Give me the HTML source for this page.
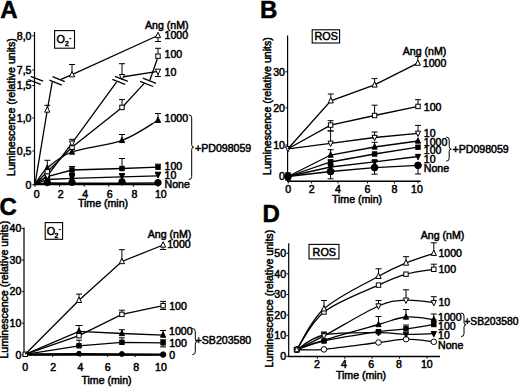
<!DOCTYPE html>
<html><head><meta charset="utf-8"><style>
html,body{margin:0;padding:0;background:#fff;width:520px;height:387px;overflow:hidden}
svg{display:block}
text{font-family:"Liberation Sans", sans-serif;fill:#000}
</style></head><body>
<svg width="520" height="387" viewBox="0 0 520 387" stroke="#000" fill="#000">
<g stroke="none"></g>
<g>
<text stroke-width="0.5" x="0.20" y="17.79" font-size="24" text-anchor="start" font-weight="bold">A</text>
<text stroke-width="0.5" x="260.00" y="18.09" font-size="24" text-anchor="start" font-weight="bold">B</text>
<text stroke-width="0.5" x="-0.50" y="215.39" font-size="24" text-anchor="start" font-weight="bold">C</text>
<text stroke-width="0.5" x="262.50" y="221.59" font-size="24" text-anchor="start" font-weight="bold">D</text>
<text stroke-width="0.5" transform="translate(14.60,176.00) rotate(-90)" font-size="10.6" x="0" y="0">Luminescence (relative units)</text>
<line x1="34.50" y1="32.00" x2="34.50" y2="185.10" stroke-width="1.2"/>
<line x1="33.90" y1="184.50" x2="158.50" y2="184.50" stroke-width="1.4"/>
<line x1="32.30" y1="35.80" x2="34.50" y2="35.80" stroke-width="1"/>
<text stroke-width="0.5" x="31.50" y="39.59" font-size="10.6" text-anchor="end" font-weight="normal">8,0</text>
<line x1="32.30" y1="70.00" x2="34.50" y2="70.00" stroke-width="1"/>
<text stroke-width="0.5" x="31.50" y="73.79" font-size="10.6" text-anchor="end" font-weight="normal">7,5</text>
<line x1="32.30" y1="85.50" x2="34.50" y2="85.50" stroke-width="1"/>
<text stroke-width="0.5" x="31.50" y="89.29" font-size="10.6" text-anchor="end" font-weight="normal">1,5</text>
<line x1="32.30" y1="118.00" x2="34.50" y2="118.00" stroke-width="1"/>
<text stroke-width="0.5" x="31.50" y="121.79" font-size="10.6" text-anchor="end" font-weight="normal">1,0</text>
<line x1="32.30" y1="151.00" x2="34.50" y2="151.00" stroke-width="1"/>
<text stroke-width="0.5" x="31.50" y="154.79" font-size="10.6" text-anchor="end" font-weight="normal">0,5</text>
<line x1="32.30" y1="184.80" x2="34.50" y2="184.80" stroke-width="1"/>
<text stroke-width="0.5" x="31.50" y="188.59" font-size="10.6" text-anchor="end" font-weight="normal">0</text>
<line x1="35.00" y1="184.50" x2="35.00" y2="186.70" stroke-width="1"/>
<text stroke-width="0.5" x="36.60" y="197.79" font-size="10.6" text-anchor="middle" font-weight="normal">0</text>
<line x1="59.60" y1="184.50" x2="59.60" y2="186.70" stroke-width="1"/>
<text stroke-width="0.5" x="60.60" y="197.79" font-size="10.6" text-anchor="middle" font-weight="normal">2</text>
<line x1="84.20" y1="184.50" x2="84.20" y2="186.70" stroke-width="1"/>
<text stroke-width="0.5" x="85.20" y="197.79" font-size="10.6" text-anchor="middle" font-weight="normal">4</text>
<line x1="108.80" y1="184.50" x2="108.80" y2="186.70" stroke-width="1"/>
<text stroke-width="0.5" x="109.80" y="197.79" font-size="10.6" text-anchor="middle" font-weight="normal">6</text>
<line x1="133.40" y1="184.50" x2="133.40" y2="186.70" stroke-width="1"/>
<text stroke-width="0.5" x="134.40" y="197.79" font-size="10.6" text-anchor="middle" font-weight="normal">8</text>
<line x1="158.00" y1="184.50" x2="158.00" y2="186.70" stroke-width="1"/>
<text stroke-width="0.5" x="160.80" y="197.79" font-size="10.6" text-anchor="middle" font-weight="normal">10</text>
<text stroke-width="0.5" x="103.00" y="207.39" font-size="10.6" text-anchor="middle" font-weight="normal">Time (min)</text>
<rect x="54.60" y="30.60" width="19.90" height="17.60" fill="none" stroke-width="1.1"/>
<text stroke-width="0.5" x="56.60" y="43.40" font-size="10.8">O</text>
<text stroke-width="0.5" x="64.90" y="46.20" font-size="6.8">2</text>
<line x1="69.30" y1="38.60" x2="71.30" y2="38.60" stroke-width="1.1"/>
<text stroke-width="0.5" x="166.80" y="28.79" font-size="10.6" text-anchor="middle" font-weight="normal">Ang (nM)</text>
<polyline points="35.00,184.30 47.30,183.00 72.00,183.20 122.00,183.20 158.00,183.00" fill="none" stroke-width="1.6"/>
<circle cx="47.30" cy="182.50" r="3.22" fill="#000" stroke-width="1"/>
<circle cx="72.00" cy="182.30" r="3.22" fill="#000" stroke-width="1"/>
<circle cx="122.00" cy="181.80" r="3.22" fill="#000" stroke-width="1"/>
<circle cx="158.00" cy="182.60" r="3.22" fill="#000" stroke-width="1"/>
<polyline points="35.00,184.30 47.30,179.50 72.00,178.30 122.00,176.80 158.00,175.90" fill="none" stroke-width="1.3"/>
<polygon points="47.30,182.74 44.70,177.34 49.90,177.34" fill="#000" stroke-width="1"/>
<polygon points="72.00,180.74 69.40,175.34 74.60,175.34" fill="#000" stroke-width="1"/>
<polygon points="122.00,179.24 119.40,173.84 124.60,173.84" fill="#000" stroke-width="1"/>
<polygon points="158.00,178.04 155.40,172.64 160.60,172.64" fill="#000" stroke-width="1"/>
<line x1="72.00" y1="177.50" x2="72.00" y2="174.50" stroke-width="1.0"/>
<line x1="69.00" y1="174.50" x2="75.00" y2="174.50" stroke-width="1.0"/>
<line x1="122.00" y1="176.00" x2="122.00" y2="173.60" stroke-width="1.0"/>
<line x1="119.00" y1="173.60" x2="125.00" y2="173.60" stroke-width="1.0"/>
<line x1="158.00" y1="174.80" x2="158.00" y2="172.20" stroke-width="1.0"/>
<line x1="155.00" y1="172.20" x2="161.00" y2="172.20" stroke-width="1.0"/>
<polyline points="35.00,184.30 47.30,176.50 72.00,170.00 122.00,168.50 158.00,167.20" fill="none" stroke-width="1.3"/>
<line x1="72.00" y1="170.00" x2="72.00" y2="166.50" stroke-width="1.0"/>
<line x1="69.00" y1="166.50" x2="75.00" y2="166.50" stroke-width="1.0"/>
<line x1="72.00" y1="170.00" x2="72.00" y2="173.50" stroke-width="1.0"/>
<line x1="69.00" y1="173.50" x2="75.00" y2="173.50" stroke-width="1.0"/>
<line x1="122.00" y1="168.50" x2="122.00" y2="158.50" stroke-width="1.0"/>
<line x1="119.00" y1="158.50" x2="125.00" y2="158.50" stroke-width="1.0"/>
<line x1="158.00" y1="167.20" x2="158.00" y2="164.20" stroke-width="1.0"/>
<line x1="155.00" y1="164.20" x2="161.00" y2="164.20" stroke-width="1.0"/>
<rect x="45.10" y="174.30" width="4.40" height="4.40" fill="#000" stroke-width="1"/>
<rect x="69.80" y="167.80" width="4.40" height="4.40" fill="#000" stroke-width="1"/>
<rect x="119.80" y="166.30" width="4.40" height="4.40" fill="#000" stroke-width="1"/>
<rect x="155.80" y="165.00" width="4.40" height="4.40" fill="#000" stroke-width="1"/>
<path d="M35.00,184.30 C37.05,181.58 41.13,173.38 47.30,168.00 C53.47,162.62 59.55,156.60 72.00,152.00 C84.45,147.40 107.67,145.68 122.00,140.40 C136.33,135.12 152.00,123.65 158.00,120.30" fill="none" stroke-width="1.3"/>
<line x1="47.30" y1="168.00" x2="47.30" y2="160.30" stroke-width="1.0"/>
<line x1="44.30" y1="160.30" x2="50.30" y2="160.30" stroke-width="1.0"/>
<line x1="72.00" y1="152.00" x2="72.00" y2="149.50" stroke-width="1.0"/>
<line x1="69.00" y1="149.50" x2="75.00" y2="149.50" stroke-width="1.0"/>
<line x1="122.00" y1="140.40" x2="122.00" y2="134.50" stroke-width="1.0"/>
<line x1="119.00" y1="134.50" x2="125.00" y2="134.50" stroke-width="1.0"/>
<line x1="158.00" y1="120.30" x2="158.00" y2="113.50" stroke-width="1.0"/>
<line x1="155.00" y1="113.50" x2="161.00" y2="113.50" stroke-width="1.0"/>
<polygon points="47.30,164.76 44.70,170.16 49.90,170.16" fill="#000" stroke-width="1"/>
<polygon points="72.00,148.76 69.40,154.16 74.60,154.16" fill="#000" stroke-width="1"/>
<polygon points="122.00,137.16 119.40,142.56 124.60,142.56" fill="#000" stroke-width="1"/>
<polygon points="158.00,117.06 155.40,122.46 160.60,122.46" fill="#000" stroke-width="1"/>
<polyline points="35.00,184.30 47.30,171.80 72.00,147.30 122.00,107.40 144.70,82.90" fill="none" stroke-width="1.3"/>
<polyline points="149.90,80.30 158.00,56.80" fill="none" stroke-width="1.3"/>
<line x1="122.00" y1="107.40" x2="122.00" y2="99.60" stroke-width="1.0"/>
<line x1="119.00" y1="99.60" x2="125.00" y2="99.60" stroke-width="1.0"/>
<line x1="158.00" y1="56.20" x2="158.00" y2="48.30" stroke-width="1.0"/>
<line x1="155.00" y1="48.30" x2="161.00" y2="48.30" stroke-width="1.0"/>
<line x1="47.30" y1="171.80" x2="47.30" y2="175.50" stroke-width="1.0"/>
<line x1="44.30" y1="175.50" x2="50.30" y2="175.50" stroke-width="1.0"/>
<polyline points="35.00,184.30 47.30,176.00 72.00,143.20 116.50,82.10" fill="none" stroke-width="1.3"/>
<polyline points="122.00,77.00 158.00,71.30" fill="none" stroke-width="1.3"/>
<line x1="72.00" y1="143.20" x2="72.00" y2="139.30" stroke-width="1.0"/>
<line x1="69.00" y1="139.30" x2="75.00" y2="139.30" stroke-width="1.0"/>
<line x1="122.00" y1="77.00" x2="122.00" y2="63.70" stroke-width="1.0"/>
<line x1="119.00" y1="63.70" x2="125.00" y2="63.70" stroke-width="1.0"/>
<line x1="158.00" y1="71.30" x2="158.00" y2="76.50" stroke-width="1.0"/>
<line x1="155.00" y1="76.50" x2="161.00" y2="76.50" stroke-width="1.0"/>
<polyline points="35.00,184.30 47.30,110.00 52.30,81.60" fill="none" stroke-width="1.3"/>
<polyline points="61.00,79.40 72.00,74.70 158.00,35.50" fill="none" stroke-width="1.3"/>
<line x1="47.30" y1="110.00" x2="47.30" y2="105.30" stroke-width="1.0"/>
<line x1="44.30" y1="105.30" x2="50.30" y2="105.30" stroke-width="1.0"/>
<line x1="72.00" y1="74.70" x2="72.00" y2="64.50" stroke-width="1.0"/>
<line x1="69.00" y1="64.50" x2="75.00" y2="64.50" stroke-width="1.0"/>
<line x1="158.00" y1="35.50" x2="158.00" y2="41.50" stroke-width="1.0"/>
<line x1="155.00" y1="41.50" x2="161.00" y2="41.50" stroke-width="1.0"/>
<line x1="30.60" y1="76.30" x2="43.10" y2="81.10" stroke-width="1.3"/>
<line x1="28.20" y1="79.50" x2="40.70" y2="84.30" stroke-width="1.3"/>
<polygon points="52.50,76.60 64.80,81.70 61.80,85.20 49.50,80.10" fill="#fff" stroke="none"/>
<line x1="52.50" y1="76.60" x2="64.80" y2="81.70" stroke-width="1.3"/>
<line x1="49.50" y1="80.10" x2="61.80" y2="85.20" stroke-width="1.3"/>
<polygon points="115.00,76.30 127.80,81.30 125.10,84.40 112.30,79.40" fill="#fff" stroke="none"/>
<line x1="115.00" y1="76.30" x2="127.80" y2="81.30" stroke-width="1.3"/>
<line x1="112.30" y1="79.40" x2="125.10" y2="84.40" stroke-width="1.3"/>
<polygon points="142.80,78.10 156.00,83.30 153.20,86.50 140.00,81.30" fill="#fff" stroke="none"/>
<line x1="142.80" y1="78.10" x2="156.00" y2="83.30" stroke-width="1.3"/>
<line x1="140.00" y1="81.30" x2="153.20" y2="86.50" stroke-width="1.3"/>
<rect x="45.10" y="169.60" width="4.40" height="4.40" fill="#fff" stroke-width="1"/>
<rect x="69.80" y="145.10" width="4.40" height="4.40" fill="#fff" stroke-width="1"/>
<rect x="119.80" y="105.20" width="4.40" height="4.40" fill="#fff" stroke-width="1"/>
<rect x="155.80" y="54.00" width="4.40" height="4.40" fill="#fff" stroke-width="1"/>
<polygon points="47.30,179.24 44.70,173.84 49.90,173.84" fill="#fff" stroke-width="1"/>
<polygon points="72.00,146.44 69.40,141.04 74.60,141.04" fill="#fff" stroke-width="1"/>
<polygon points="122.00,79.94 119.40,74.54 124.60,74.54" fill="#fff" stroke-width="1"/>
<polygon points="158.00,74.54 155.40,69.14 160.60,69.14" fill="#fff" stroke-width="1"/>
<polygon points="47.30,106.76 44.70,112.16 49.90,112.16" fill="#fff" stroke-width="1"/>
<polygon points="72.00,71.46 69.40,76.86 74.60,76.86" fill="#fff" stroke-width="1"/>
<polygon points="158.00,32.26 155.40,37.66 160.60,37.66" fill="#fff" stroke-width="1"/>
<text stroke-width="0.5" x="164.50" y="39.39" font-size="10.6" text-anchor="start" font-weight="normal">1000</text>
<text stroke-width="0.5" x="164.50" y="57.69" font-size="10.6" text-anchor="start" font-weight="normal">100</text>
<text stroke-width="0.5" x="164.50" y="76.19" font-size="10.6" text-anchor="start" font-weight="normal">10</text>
<text stroke-width="0.5" x="164.50" y="121.59" font-size="10.6" text-anchor="start" font-weight="normal">1000</text>
<text stroke-width="0.5" x="164.50" y="170.39" font-size="10.6" text-anchor="start" font-weight="normal">100</text>
<text stroke-width="0.5" x="164.50" y="179.39" font-size="10.6" text-anchor="start" font-weight="normal">10</text>
<text stroke-width="0.5" x="164.50" y="187.59" font-size="10.6" text-anchor="start" font-weight="normal">None</text>
<path d="M188.70,114.80 Q191.70,114.80 191.70,117.80 L191.70,144.65 Q191.70,147.15 193.70,147.15 Q191.70,147.15 191.70,149.65 L191.70,176.50 Q191.70,179.50 188.70,179.50" fill="none" stroke-width="1.0"/>
<text stroke-width="0.5" x="195.00" y="152.29" font-size="10.6" text-anchor="start" font-weight="normal">+PD098059</text>
<text stroke-width="0.5" transform="translate(271.00,175.00) rotate(-90)" font-size="10.6" x="0" y="0">Luminescence (relative units)</text>
<line x1="287.60" y1="35.60" x2="287.60" y2="181.80" stroke-width="1.2"/>
<line x1="287.00" y1="181.20" x2="420.80" y2="181.20" stroke-width="1.4"/>
<line x1="285.40" y1="71.80" x2="287.60" y2="71.80" stroke-width="1"/>
<text stroke-width="0.5" x="285.00" y="75.59" font-size="10.6" text-anchor="end" font-weight="normal">30</text>
<line x1="285.40" y1="107.80" x2="287.60" y2="107.80" stroke-width="1"/>
<text stroke-width="0.5" x="285.00" y="111.59" font-size="10.6" text-anchor="end" font-weight="normal">20</text>
<line x1="285.40" y1="145.00" x2="287.60" y2="145.00" stroke-width="1"/>
<text stroke-width="0.5" x="285.00" y="148.79" font-size="10.6" text-anchor="end" font-weight="normal">10</text>
<line x1="285.40" y1="176.30" x2="287.60" y2="176.30" stroke-width="1"/>
<text stroke-width="0.5" x="285.00" y="180.09" font-size="10.6" text-anchor="end" font-weight="normal">0</text>
<line x1="288.30" y1="181.20" x2="288.30" y2="183.40" stroke-width="1"/>
<text stroke-width="0.5" x="288.30" y="192.99" font-size="10.6" text-anchor="middle" font-weight="normal">0</text>
<line x1="311.60" y1="181.20" x2="311.60" y2="183.40" stroke-width="1"/>
<text stroke-width="0.5" x="311.60" y="192.99" font-size="10.6" text-anchor="middle" font-weight="normal">2</text>
<line x1="338.00" y1="181.20" x2="338.00" y2="183.40" stroke-width="1"/>
<text stroke-width="0.5" x="338.00" y="192.99" font-size="10.6" text-anchor="middle" font-weight="normal">4</text>
<line x1="367.50" y1="181.20" x2="367.50" y2="183.40" stroke-width="1"/>
<text stroke-width="0.5" x="367.50" y="192.99" font-size="10.6" text-anchor="middle" font-weight="normal">6</text>
<line x1="394.50" y1="181.20" x2="394.50" y2="183.40" stroke-width="1"/>
<text stroke-width="0.5" x="394.50" y="192.99" font-size="10.6" text-anchor="middle" font-weight="normal">8</text>
<line x1="418.00" y1="181.20" x2="418.00" y2="183.40" stroke-width="1"/>
<text stroke-width="0.5" x="416.90" y="192.99" font-size="10.6" text-anchor="middle" font-weight="normal">10</text>
<text stroke-width="0.5" x="357.00" y="203.39" font-size="10.6" text-anchor="middle" font-weight="normal">Time (min)</text>
<rect x="312.20" y="29.80" width="27.40" height="13.20" fill="none" stroke-width="1.1"/>
<text stroke-width="0.5" x="326.20" y="40.27" font-size="10.8" text-anchor="middle" font-weight="normal">ROS</text>
<text stroke-width="0.5" x="424.50" y="54.79" font-size="10.6" text-anchor="middle" font-weight="normal">Ang (nM)</text>
<polyline points="288.00,176.50 330.60,171.50 374.60,167.60 418.00,165.30" fill="none" stroke-width="1.3"/>
<line x1="330.60" y1="171.50" x2="330.60" y2="164.50" stroke-width="1.0"/>
<line x1="327.60" y1="164.50" x2="333.60" y2="164.50" stroke-width="1.0"/>
<line x1="330.60" y1="171.50" x2="330.60" y2="178.80" stroke-width="1.0"/>
<line x1="327.60" y1="178.80" x2="333.60" y2="178.80" stroke-width="1.0"/>
<line x1="374.60" y1="167.60" x2="374.60" y2="160.50" stroke-width="1.0"/>
<line x1="371.60" y1="160.50" x2="377.60" y2="160.50" stroke-width="1.0"/>
<line x1="374.60" y1="167.60" x2="374.60" y2="174.20" stroke-width="1.0"/>
<line x1="371.60" y1="174.20" x2="377.60" y2="174.20" stroke-width="1.0"/>
<line x1="418.00" y1="165.30" x2="418.00" y2="174.00" stroke-width="1.0"/>
<line x1="415.00" y1="174.00" x2="421.00" y2="174.00" stroke-width="1.0"/>
<circle cx="288.00" cy="176.50" r="3.36" fill="#000" stroke-width="1"/>
<circle cx="330.60" cy="171.50" r="3.36" fill="#000" stroke-width="1"/>
<circle cx="374.60" cy="167.60" r="3.36" fill="#000" stroke-width="1"/>
<circle cx="418.00" cy="165.30" r="3.36" fill="#000" stroke-width="1"/>
<polyline points="288.00,176.50 330.60,167.00 374.60,161.90 418.00,156.50" fill="none" stroke-width="1.3"/>
<line x1="330.60" y1="167.00" x2="330.60" y2="160.00" stroke-width="1.0"/>
<line x1="327.60" y1="160.00" x2="333.60" y2="160.00" stroke-width="1.0"/>
<polygon points="330.60,170.24 328.00,164.84 333.20,164.84" fill="#000" stroke-width="1"/>
<polygon points="374.60,165.14 372.00,159.74 377.20,159.74" fill="#000" stroke-width="1"/>
<polygon points="418.00,159.74 415.40,154.34 420.60,154.34" fill="#000" stroke-width="1"/>
<polyline points="288.00,176.50 330.60,162.00 374.60,154.00 418.00,147.20" fill="none" stroke-width="1.3"/>
<rect x="328.40" y="159.80" width="4.40" height="4.40" fill="#000" stroke-width="1"/>
<rect x="372.40" y="151.80" width="4.40" height="4.40" fill="#000" stroke-width="1"/>
<rect x="415.80" y="145.00" width="4.40" height="4.40" fill="#000" stroke-width="1"/>
<polyline points="288.00,176.50 330.60,155.00 374.60,147.00 418.00,141.00" fill="none" stroke-width="1.3"/>
<line x1="330.60" y1="155.00" x2="330.60" y2="149.70" stroke-width="1.0"/>
<line x1="327.60" y1="149.70" x2="333.60" y2="149.70" stroke-width="1.0"/>
<line x1="374.60" y1="147.00" x2="374.60" y2="142.30" stroke-width="1.0"/>
<line x1="371.60" y1="142.30" x2="377.60" y2="142.30" stroke-width="1.0"/>
<polygon points="330.60,151.76 328.00,157.16 333.20,157.16" fill="#000" stroke-width="1"/>
<polygon points="374.60,143.76 372.00,149.16 377.20,149.16" fill="#000" stroke-width="1"/>
<polygon points="418.00,137.76 415.40,143.16 420.60,143.16" fill="#000" stroke-width="1"/>
<polyline points="288.00,148.80 330.60,143.30 374.60,137.50 418.00,133.30" fill="none" stroke-width="1.3"/>
<line x1="330.60" y1="143.30" x2="330.60" y2="130.90" stroke-width="1.0"/>
<line x1="327.60" y1="130.90" x2="333.60" y2="130.90" stroke-width="1.0"/>
<line x1="374.60" y1="137.50" x2="374.60" y2="132.00" stroke-width="1.0"/>
<line x1="371.60" y1="132.00" x2="377.60" y2="132.00" stroke-width="1.0"/>
<line x1="418.00" y1="133.30" x2="418.00" y2="125.40" stroke-width="1.0"/>
<line x1="415.00" y1="125.40" x2="421.00" y2="125.40" stroke-width="1.0"/>
<polygon points="288.00,152.04 285.40,146.64 290.60,146.64" fill="#fff" stroke-width="1"/>
<polygon points="330.60,146.54 328.00,141.14 333.20,141.14" fill="#fff" stroke-width="1"/>
<polygon points="374.60,140.74 372.00,135.34 377.20,135.34" fill="#fff" stroke-width="1"/>
<polygon points="418.00,136.54 415.40,131.14 420.60,131.14" fill="#fff" stroke-width="1"/>
<polyline points="288.00,148.80 330.60,125.10 374.60,115.50 418.00,106.40" fill="none" stroke-width="1.3"/>
<line x1="330.60" y1="125.10" x2="330.60" y2="120.70" stroke-width="1.0"/>
<line x1="327.60" y1="120.70" x2="333.60" y2="120.70" stroke-width="1.0"/>
<line x1="330.60" y1="125.10" x2="330.60" y2="130.90" stroke-width="1.0"/>
<line x1="327.60" y1="130.90" x2="333.60" y2="130.90" stroke-width="1.0"/>
<line x1="374.60" y1="115.50" x2="374.60" y2="105.20" stroke-width="1.0"/>
<line x1="371.60" y1="105.20" x2="377.60" y2="105.20" stroke-width="1.0"/>
<line x1="418.00" y1="106.40" x2="418.00" y2="99.70" stroke-width="1.0"/>
<line x1="415.00" y1="99.70" x2="421.00" y2="99.70" stroke-width="1.0"/>
<rect x="328.40" y="122.90" width="4.40" height="4.40" fill="#fff" stroke-width="1"/>
<rect x="372.40" y="113.30" width="4.40" height="4.40" fill="#fff" stroke-width="1"/>
<rect x="415.80" y="104.20" width="4.40" height="4.40" fill="#fff" stroke-width="1"/>
<polyline points="288.00,148.80 330.80,100.80 374.60,84.90 417.80,63.10" fill="none" stroke-width="1.3"/>
<line x1="330.80" y1="100.80" x2="330.80" y2="94.00" stroke-width="1.0"/>
<line x1="327.80" y1="94.00" x2="333.80" y2="94.00" stroke-width="1.0"/>
<line x1="374.60" y1="84.90" x2="374.60" y2="78.60" stroke-width="1.0"/>
<line x1="371.60" y1="78.60" x2="377.60" y2="78.60" stroke-width="1.0"/>
<line x1="417.80" y1="63.10" x2="417.80" y2="56.30" stroke-width="1.0"/>
<line x1="414.80" y1="56.30" x2="420.80" y2="56.30" stroke-width="1.0"/>
<polygon points="330.80,97.56 328.20,102.96 333.40,102.96" fill="#fff" stroke-width="1"/>
<polygon points="374.60,81.66 372.00,87.06 377.20,87.06" fill="#fff" stroke-width="1"/>
<polygon points="417.80,59.86 415.20,65.26 420.40,65.26" fill="#fff" stroke-width="1"/>
<rect x="285.80" y="175.80" width="4.40" height="4.40" fill="#000" stroke-width="1"/>
<rect x="285.80" y="172.80" width="4.40" height="4.40" fill="#000" stroke-width="1"/>
<text stroke-width="0.5" x="422.80" y="67.29" font-size="10.6" text-anchor="start" font-weight="normal">1000</text>
<text stroke-width="0.5" x="423.80" y="110.69" font-size="10.6" text-anchor="start" font-weight="normal">100</text>
<text stroke-width="0.5" x="423.80" y="136.59" font-size="10.6" text-anchor="start" font-weight="normal">10</text>
<text stroke-width="0.5" x="423.80" y="146.39" font-size="10.6" text-anchor="start" font-weight="normal">1000</text>
<text stroke-width="0.5" x="423.80" y="154.29" font-size="10.6" text-anchor="start" font-weight="normal">100</text>
<text stroke-width="0.5" x="423.80" y="162.59" font-size="10.6" text-anchor="start" font-weight="normal">10</text>
<text stroke-width="0.5" x="423.80" y="172.29" font-size="10.6" text-anchor="start" font-weight="normal">None</text>
<path d="M446.20,137.00 Q449.20,137.00 449.20,140.00 L449.20,146.60 Q449.20,149.10 451.20,149.10 Q449.20,149.10 449.20,151.60 L449.20,158.20 Q449.20,161.20 446.20,161.20" fill="none" stroke-width="1.0"/>
<text stroke-width="0.5" x="452.50" y="152.99" font-size="10.6" text-anchor="start" font-weight="normal">+PD098059</text>
<text stroke-width="0.5" transform="translate(8.30,358.60) rotate(-90)" font-size="10.6" x="0" y="0">Luminescence (relative units)</text>
<line x1="24.00" y1="227.50" x2="24.00" y2="355.40" stroke-width="1.2"/>
<line x1="23.40" y1="354.80" x2="164.00" y2="354.80" stroke-width="1.4"/>
<line x1="21.80" y1="228.40" x2="24.00" y2="228.40" stroke-width="1"/>
<text stroke-width="0.5" x="21.40" y="232.19" font-size="10.6" text-anchor="end" font-weight="normal">40</text>
<line x1="21.80" y1="260.00" x2="24.00" y2="260.00" stroke-width="1"/>
<text stroke-width="0.5" x="21.40" y="263.79" font-size="10.6" text-anchor="end" font-weight="normal">30</text>
<line x1="21.80" y1="291.60" x2="24.00" y2="291.60" stroke-width="1"/>
<text stroke-width="0.5" x="21.40" y="295.39" font-size="10.6" text-anchor="end" font-weight="normal">20</text>
<line x1="21.80" y1="323.20" x2="24.00" y2="323.20" stroke-width="1"/>
<text stroke-width="0.5" x="21.40" y="326.99" font-size="10.6" text-anchor="end" font-weight="normal">10</text>
<line x1="21.80" y1="354.80" x2="24.00" y2="354.80" stroke-width="1"/>
<text stroke-width="0.5" x="21.40" y="358.59" font-size="10.6" text-anchor="end" font-weight="normal">0</text>
<line x1="25.20" y1="354.80" x2="25.20" y2="357.00" stroke-width="1"/>
<text stroke-width="0.5" x="25.20" y="371.29" font-size="10.6" text-anchor="middle" font-weight="normal">0</text>
<line x1="52.70" y1="354.80" x2="52.70" y2="357.00" stroke-width="1"/>
<text stroke-width="0.5" x="53.30" y="371.29" font-size="10.6" text-anchor="middle" font-weight="normal">2</text>
<line x1="80.20" y1="354.80" x2="80.20" y2="357.00" stroke-width="1"/>
<text stroke-width="0.5" x="80.40" y="371.29" font-size="10.6" text-anchor="middle" font-weight="normal">4</text>
<line x1="107.70" y1="354.80" x2="107.70" y2="357.00" stroke-width="1"/>
<text stroke-width="0.5" x="107.70" y="371.29" font-size="10.6" text-anchor="middle" font-weight="normal">6</text>
<line x1="135.20" y1="354.80" x2="135.20" y2="357.00" stroke-width="1"/>
<text stroke-width="0.5" x="136.30" y="371.29" font-size="10.6" text-anchor="middle" font-weight="normal">8</text>
<line x1="162.70" y1="354.80" x2="162.70" y2="357.00" stroke-width="1"/>
<text stroke-width="0.5" x="161.00" y="371.29" font-size="10.6" text-anchor="middle" font-weight="normal">10</text>
<text stroke-width="0.5" x="106.50" y="384.29" font-size="10.6" text-anchor="middle" font-weight="normal">Time (min)</text>
<rect x="45.20" y="222.60" width="17.40" height="16.70" fill="none" stroke-width="1.1"/>
<text stroke-width="0.5" x="46.80" y="235.30" font-size="10.8">O</text>
<text stroke-width="0.5" x="54.40" y="237.60" font-size="6.8">2</text>
<line x1="58.70" y1="229.50" x2="60.70" y2="229.50" stroke-width="1.1"/>
<text stroke-width="0.5" x="169.50" y="237.59" font-size="10.6" text-anchor="middle" font-weight="normal">Ang (nM)</text>
<polyline points="25.20,354.50 79.00,354.30 121.90,354.50 163.10,354.60" fill="none" stroke-width="2.4"/>
<circle cx="79.00" cy="353.60" r="2.38" fill="#000" stroke-width="1"/>
<circle cx="121.90" cy="354.00" r="2.46" fill="#000" stroke-width="1"/>
<circle cx="163.10" cy="354.60" r="2.74" fill="#000" stroke-width="1"/>
<polyline points="25.20,354.30 79.00,345.80 121.90,342.30 163.10,342.80" fill="none" stroke-width="1.3"/>
<line x1="79.00" y1="345.80" x2="79.00" y2="340.20" stroke-width="1.0"/>
<line x1="76.00" y1="340.20" x2="82.00" y2="340.20" stroke-width="1.0"/>
<line x1="121.90" y1="342.30" x2="121.90" y2="337.80" stroke-width="1.0"/>
<line x1="118.90" y1="337.80" x2="124.90" y2="337.80" stroke-width="1.0"/>
<line x1="163.10" y1="342.80" x2="163.10" y2="339.80" stroke-width="1.0"/>
<line x1="160.10" y1="339.80" x2="166.10" y2="339.80" stroke-width="1.0"/>
<line x1="163.10" y1="342.80" x2="163.10" y2="346.90" stroke-width="1.0"/>
<line x1="160.10" y1="346.90" x2="166.10" y2="346.90" stroke-width="1.0"/>
<rect x="76.80" y="343.60" width="4.40" height="4.40" fill="#000" stroke-width="1"/>
<rect x="119.70" y="340.10" width="4.40" height="4.40" fill="#000" stroke-width="1"/>
<rect x="160.90" y="340.60" width="4.40" height="4.40" fill="#000" stroke-width="1"/>
<polyline points="25.20,354.30 79.00,331.30 121.90,333.50 163.10,335.10" fill="none" stroke-width="1.3"/>
<line x1="79.00" y1="331.30" x2="79.00" y2="325.50" stroke-width="1.0"/>
<line x1="75.50" y1="325.50" x2="82.50" y2="325.50" stroke-width="1.0"/>
<line x1="121.90" y1="333.50" x2="121.90" y2="329.70" stroke-width="1.0"/>
<line x1="118.90" y1="329.70" x2="124.90" y2="329.70" stroke-width="1.0"/>
<line x1="163.10" y1="335.10" x2="163.10" y2="330.50" stroke-width="1.0"/>
<line x1="160.10" y1="330.50" x2="166.10" y2="330.50" stroke-width="1.0"/>
<polygon points="79.00,328.06 76.40,333.46 81.60,333.46" fill="#000" stroke-width="1"/>
<polygon points="121.90,330.26 119.30,335.66 124.50,335.66" fill="#000" stroke-width="1"/>
<polygon points="163.10,331.86 160.50,337.26 165.70,337.26" fill="#000" stroke-width="1"/>
<polyline points="25.20,354.30 79.00,335.70 121.90,314.40 163.10,305.70" fill="none" stroke-width="1.3"/>
<line x1="121.90" y1="314.40" x2="121.90" y2="310.20" stroke-width="1.0"/>
<line x1="118.90" y1="310.20" x2="124.90" y2="310.20" stroke-width="1.0"/>
<line x1="163.10" y1="305.70" x2="163.10" y2="301.40" stroke-width="1.0"/>
<line x1="160.10" y1="301.40" x2="166.10" y2="301.40" stroke-width="1.0"/>
<line x1="163.10" y1="305.70" x2="163.10" y2="309.50" stroke-width="1.0"/>
<line x1="160.10" y1="309.50" x2="166.10" y2="309.50" stroke-width="1.0"/>
<rect x="23.00" y="352.10" width="4.40" height="4.40" fill="#fff" stroke-width="1"/>
<rect x="76.80" y="333.50" width="4.40" height="4.40" fill="#fff" stroke-width="1"/>
<rect x="119.70" y="312.20" width="4.40" height="4.40" fill="#fff" stroke-width="1"/>
<rect x="160.90" y="303.50" width="4.40" height="4.40" fill="#fff" stroke-width="1"/>
<polyline points="25.20,354.30 79.00,300.30 121.90,261.50 163.10,245.00" fill="none" stroke-width="1.3"/>
<line x1="79.00" y1="300.30" x2="79.00" y2="294.10" stroke-width="1.0"/>
<line x1="76.00" y1="294.10" x2="82.00" y2="294.10" stroke-width="1.0"/>
<line x1="121.90" y1="261.50" x2="121.90" y2="249.70" stroke-width="1.0"/>
<line x1="118.90" y1="249.70" x2="124.90" y2="249.70" stroke-width="1.0"/>
<line x1="163.10" y1="245.00" x2="163.10" y2="249.50" stroke-width="1.0"/>
<line x1="160.10" y1="249.50" x2="166.10" y2="249.50" stroke-width="1.0"/>
<polygon points="79.00,297.06 76.40,302.46 81.60,302.46" fill="#fff" stroke-width="1"/>
<polygon points="121.90,258.26 119.30,263.66 124.50,263.66" fill="#fff" stroke-width="1"/>
<polygon points="163.10,241.76 160.50,247.16 165.70,247.16" fill="#fff" stroke-width="1"/>
<text stroke-width="0.5" x="167.20" y="248.19" font-size="10.6" text-anchor="start" font-weight="normal">1000</text>
<text stroke-width="0.5" x="169.20" y="309.79" font-size="10.6" text-anchor="start" font-weight="normal">100</text>
<text stroke-width="0.5" x="169.00" y="335.09" font-size="10.6" text-anchor="start" font-weight="normal">1000</text>
<text stroke-width="0.5" x="169.20" y="347.49" font-size="10.6" text-anchor="start" font-weight="normal">100</text>
<text stroke-width="0.5" x="169.20" y="358.59" font-size="10.6" text-anchor="start" font-weight="normal">0</text>
<path d="M192.30,328.50 Q195.30,328.50 195.30,331.50 L195.30,339.05 Q195.30,341.55 197.30,341.55 Q195.30,341.55 195.30,344.05 L195.30,351.60 Q195.30,354.60 192.30,354.60" fill="none" stroke-width="1.0"/>
<text stroke-width="0.5" x="195.60" y="344.19" font-size="10.6" text-anchor="start" font-weight="normal">+SB203580</text>
<text stroke-width="0.5" transform="translate(273.30,367.60) rotate(-90)" font-size="10.6" x="0" y="0">Luminescence (relative units)</text>
<line x1="288.70" y1="243.30" x2="288.70" y2="357.10" stroke-width="1.2"/>
<line x1="288.10" y1="356.50" x2="440.00" y2="356.50" stroke-width="1.4"/>
<line x1="286.50" y1="253.30" x2="288.70" y2="253.30" stroke-width="1"/>
<text stroke-width="0.5" x="286.10" y="257.09" font-size="10.6" text-anchor="end" font-weight="normal">50</text>
<line x1="286.50" y1="273.90" x2="288.70" y2="273.90" stroke-width="1"/>
<text stroke-width="0.5" x="286.10" y="277.69" font-size="10.6" text-anchor="end" font-weight="normal">40</text>
<line x1="286.50" y1="294.50" x2="288.70" y2="294.50" stroke-width="1"/>
<text stroke-width="0.5" x="286.10" y="298.29" font-size="10.6" text-anchor="end" font-weight="normal">30</text>
<line x1="286.50" y1="315.10" x2="288.70" y2="315.10" stroke-width="1"/>
<text stroke-width="0.5" x="286.10" y="318.89" font-size="10.6" text-anchor="end" font-weight="normal">20</text>
<line x1="286.50" y1="335.70" x2="288.70" y2="335.70" stroke-width="1"/>
<text stroke-width="0.5" x="286.10" y="339.49" font-size="10.6" text-anchor="end" font-weight="normal">10</text>
<line x1="286.50" y1="356.30" x2="288.70" y2="356.30" stroke-width="1"/>
<text stroke-width="0.5" x="286.10" y="360.09" font-size="10.6" text-anchor="end" font-weight="normal">0</text>
<line x1="317.40" y1="356.50" x2="317.40" y2="358.70" stroke-width="1"/>
<text stroke-width="0.5" x="317.00" y="367.59" font-size="10.6" text-anchor="middle" font-weight="normal">2</text>
<line x1="344.80" y1="356.50" x2="344.80" y2="358.70" stroke-width="1"/>
<text stroke-width="0.5" x="344.00" y="367.59" font-size="10.6" text-anchor="middle" font-weight="normal">4</text>
<line x1="372.20" y1="356.50" x2="372.20" y2="358.70" stroke-width="1"/>
<text stroke-width="0.5" x="371.20" y="367.59" font-size="10.6" text-anchor="middle" font-weight="normal">6</text>
<line x1="399.60" y1="356.50" x2="399.60" y2="358.70" stroke-width="1"/>
<text stroke-width="0.5" x="399.00" y="367.59" font-size="10.6" text-anchor="middle" font-weight="normal">8</text>
<line x1="427.00" y1="356.50" x2="427.00" y2="358.70" stroke-width="1"/>
<text stroke-width="0.5" x="426.80" y="367.59" font-size="10.6" text-anchor="middle" font-weight="normal">10</text>
<text stroke-width="0.5" x="361.00" y="379.29" font-size="10.6" text-anchor="middle" font-weight="normal">Time (min)</text>
<rect x="309.00" y="244.40" width="30.00" height="14.50" fill="none" stroke-width="1.1"/>
<text stroke-width="0.5" x="324.30" y="255.52" font-size="10.8" text-anchor="middle" font-weight="normal">ROS</text>
<text stroke-width="0.5" x="442.60" y="239.49" font-size="10.6" text-anchor="middle" font-weight="normal">Ang (nM)</text>
<path d="M296.80,349.60 C301.33,349.57 310.38,350.58 324.00,349.40 C337.62,348.22 364.83,344.20 378.50,342.50 C392.17,340.80 396.78,339.32 406.00,339.20 C415.22,339.08 429.17,341.37 433.80,341.80" fill="none" stroke-width="1.3"/>
<circle cx="296.80" cy="349.60" r="2.80" fill="#fff" stroke-width="1"/>
<circle cx="324.00" cy="349.40" r="2.80" fill="#fff" stroke-width="1"/>
<circle cx="378.50" cy="342.50" r="2.80" fill="#fff" stroke-width="1"/>
<circle cx="406.00" cy="339.20" r="2.80" fill="#fff" stroke-width="1"/>
<circle cx="433.80" cy="341.80" r="2.80" fill="#fff" stroke-width="1"/>
<path d="M296.80,349.60 C301.33,347.17 310.38,337.82 324.00,335.00 C337.62,332.18 364.83,332.82 378.50,332.70 C392.17,332.58 396.78,334.13 406.00,334.30 C415.22,334.47 429.17,333.80 433.80,333.70" fill="none" stroke-width="1.3"/>
<polygon points="296.80,352.84 294.20,347.44 299.40,347.44" fill="#000" stroke-width="1"/>
<polygon points="324.00,338.24 321.40,332.84 326.60,332.84" fill="#000" stroke-width="1"/>
<polygon points="378.50,335.94 375.90,330.54 381.10,330.54" fill="#000" stroke-width="1"/>
<polygon points="406.00,337.54 403.40,332.14 408.60,332.14" fill="#000" stroke-width="1"/>
<polygon points="433.80,336.94 431.20,331.54 436.40,331.54" fill="#000" stroke-width="1"/>
<path d="M296.80,349.60 C301.33,348.17 310.38,343.98 324.00,341.00 C337.62,338.02 364.83,333.73 378.50,331.70 C392.17,329.67 396.78,330.00 406.00,328.80 C415.22,327.60 429.17,325.22 433.80,324.50" fill="none" stroke-width="1.3"/>
<line x1="406.00" y1="328.80" x2="406.00" y2="325.00" stroke-width="1.0"/>
<line x1="403.00" y1="325.00" x2="409.00" y2="325.00" stroke-width="1.0"/>
<line x1="433.80" y1="324.50" x2="433.80" y2="320.00" stroke-width="1.0"/>
<line x1="430.80" y1="320.00" x2="436.80" y2="320.00" stroke-width="1.0"/>
<rect x="294.60" y="347.40" width="4.40" height="4.40" fill="#000" stroke-width="1"/>
<rect x="321.80" y="338.80" width="4.40" height="4.40" fill="#000" stroke-width="1"/>
<rect x="376.30" y="329.50" width="4.40" height="4.40" fill="#000" stroke-width="1"/>
<rect x="403.80" y="326.60" width="4.40" height="4.40" fill="#000" stroke-width="1"/>
<rect x="431.60" y="322.30" width="4.40" height="4.40" fill="#000" stroke-width="1"/>
<path d="M296.80,349.60 C301.33,348.00 310.38,344.18 324.00,340.00 C337.62,335.82 364.83,328.33 378.50,324.50 C392.17,320.67 396.78,317.82 406.00,317.00 C415.22,316.18 429.17,319.17 433.80,319.60" fill="none" stroke-width="1.3"/>
<line x1="378.50" y1="324.50" x2="378.50" y2="316.50" stroke-width="1.0"/>
<line x1="375.50" y1="316.50" x2="381.50" y2="316.50" stroke-width="1.0"/>
<line x1="406.00" y1="317.00" x2="406.00" y2="309.50" stroke-width="1.0"/>
<line x1="403.00" y1="309.50" x2="409.00" y2="309.50" stroke-width="1.0"/>
<line x1="433.80" y1="319.60" x2="433.80" y2="314.00" stroke-width="1.0"/>
<line x1="430.80" y1="314.00" x2="436.80" y2="314.00" stroke-width="1.0"/>
<polygon points="296.80,346.36 294.20,351.76 299.40,351.76" fill="#000" stroke-width="1"/>
<polygon points="324.00,336.76 321.40,342.16 326.60,342.16" fill="#000" stroke-width="1"/>
<polygon points="378.50,321.26 375.90,326.66 381.10,326.66" fill="#000" stroke-width="1"/>
<polygon points="406.00,313.76 403.40,319.16 408.60,319.16" fill="#000" stroke-width="1"/>
<polygon points="433.80,316.36 431.20,321.76 436.40,321.76" fill="#000" stroke-width="1"/>
<path d="M296.80,349.60 C301.33,347.32 310.38,343.17 324.00,335.90 C337.62,328.63 364.83,311.95 378.50,306.00 C392.17,300.05 396.78,300.77 406.00,300.20 C415.22,299.63 429.17,302.20 433.80,302.60" fill="none" stroke-width="1.3"/>
<line x1="324.00" y1="335.90" x2="324.00" y2="332.00" stroke-width="1.0"/>
<line x1="321.00" y1="332.00" x2="327.00" y2="332.00" stroke-width="1.0"/>
<line x1="378.50" y1="306.00" x2="378.50" y2="300.50" stroke-width="1.0"/>
<line x1="375.50" y1="300.50" x2="381.50" y2="300.50" stroke-width="1.0"/>
<line x1="406.00" y1="300.20" x2="406.00" y2="289.80" stroke-width="1.0"/>
<line x1="403.00" y1="289.80" x2="409.00" y2="289.80" stroke-width="1.0"/>
<line x1="433.80" y1="302.60" x2="433.80" y2="296.70" stroke-width="1.0"/>
<line x1="430.80" y1="296.70" x2="436.80" y2="296.70" stroke-width="1.0"/>
<polygon points="296.80,352.84 294.20,347.44 299.40,347.44" fill="#fff" stroke-width="1"/>
<polygon points="324.00,339.14 321.40,333.74 326.60,333.74" fill="#fff" stroke-width="1"/>
<polygon points="378.50,309.24 375.90,303.84 381.10,303.84" fill="#fff" stroke-width="1"/>
<polygon points="406.00,303.44 403.40,298.04 408.60,298.04" fill="#fff" stroke-width="1"/>
<polygon points="433.80,305.84 431.20,300.44 436.40,300.44" fill="#fff" stroke-width="1"/>
<path d="M296.80,349.60 C301.33,343.33 310.38,322.75 324.00,312.00 C337.62,301.25 364.83,291.40 378.50,285.10 C392.17,278.80 396.78,276.83 406.00,274.20 C415.22,271.57 429.17,270.12 433.80,269.30" fill="none" stroke-width="1.3"/>
<line x1="433.80" y1="269.30" x2="433.80" y2="264.20" stroke-width="1.0"/>
<line x1="430.80" y1="264.20" x2="436.80" y2="264.20" stroke-width="1.0"/>
<rect x="294.60" y="347.40" width="4.40" height="4.40" fill="#fff" stroke-width="1"/>
<rect x="321.80" y="309.80" width="4.40" height="4.40" fill="#fff" stroke-width="1"/>
<rect x="376.30" y="282.90" width="4.40" height="4.40" fill="#fff" stroke-width="1"/>
<rect x="403.80" y="272.00" width="4.40" height="4.40" fill="#fff" stroke-width="1"/>
<rect x="431.60" y="267.10" width="4.40" height="4.40" fill="#fff" stroke-width="1"/>
<path d="M296.80,349.60 C301.33,342.80 310.38,321.02 324.00,308.80 C337.62,296.58 364.83,283.93 378.50,276.30 C392.17,268.67 396.78,266.83 406.00,263.00 C415.22,259.17 429.17,254.92 433.80,253.30" fill="none" stroke-width="1.3"/>
<line x1="324.00" y1="308.80" x2="324.00" y2="300.50" stroke-width="1.0"/>
<line x1="321.00" y1="300.50" x2="327.00" y2="300.50" stroke-width="1.0"/>
<line x1="378.50" y1="276.30" x2="378.50" y2="268.80" stroke-width="1.0"/>
<line x1="375.50" y1="268.80" x2="381.50" y2="268.80" stroke-width="1.0"/>
<line x1="406.00" y1="263.00" x2="406.00" y2="256.70" stroke-width="1.0"/>
<line x1="403.00" y1="256.70" x2="409.00" y2="256.70" stroke-width="1.0"/>
<line x1="433.80" y1="253.30" x2="433.80" y2="242.80" stroke-width="1.0"/>
<line x1="430.80" y1="242.80" x2="436.80" y2="242.80" stroke-width="1.0"/>
<polygon points="296.80,346.36 294.20,351.76 299.40,351.76" fill="#fff" stroke-width="1"/>
<polygon points="324.00,305.56 321.40,310.96 326.60,310.96" fill="#fff" stroke-width="1"/>
<polygon points="378.50,273.06 375.90,278.46 381.10,278.46" fill="#fff" stroke-width="1"/>
<polygon points="406.00,259.76 403.40,265.16 408.60,265.16" fill="#fff" stroke-width="1"/>
<polygon points="433.80,250.06 431.20,255.46 436.40,255.46" fill="#fff" stroke-width="1"/>
<text stroke-width="0.5" x="438.40" y="257.09" font-size="10.6" text-anchor="start" font-weight="normal">1000</text>
<text stroke-width="0.5" x="438.40" y="273.29" font-size="10.6" text-anchor="start" font-weight="normal">100</text>
<text stroke-width="0.5" x="438.40" y="306.29" font-size="10.6" text-anchor="start" font-weight="normal">10</text>
<text stroke-width="0.5" x="438.00" y="320.79" font-size="10.6" text-anchor="start" font-weight="normal">1000</text>
<text stroke-width="0.5" x="438.00" y="329.99" font-size="10.6" text-anchor="start" font-weight="normal">100</text>
<text stroke-width="0.5" x="438.00" y="339.09" font-size="10.6" text-anchor="start" font-weight="normal">10</text>
<text stroke-width="0.5" x="438.00" y="348.89" font-size="10.6" text-anchor="start" font-weight="normal">None</text>
<path d="M461.00,313.00 Q464.00,313.00 464.00,316.00 L464.00,322.30 Q464.00,324.80 466.00,324.80 Q464.00,324.80 464.00,327.30 L464.00,333.60 Q464.00,336.60 461.00,336.60" fill="none" stroke-width="1.0"/>
<text stroke-width="0.5" x="464.30" y="324.69" font-size="10.3" text-anchor="start" font-weight="normal">+SB203580</text>
</g>
</svg>
</body></html>
